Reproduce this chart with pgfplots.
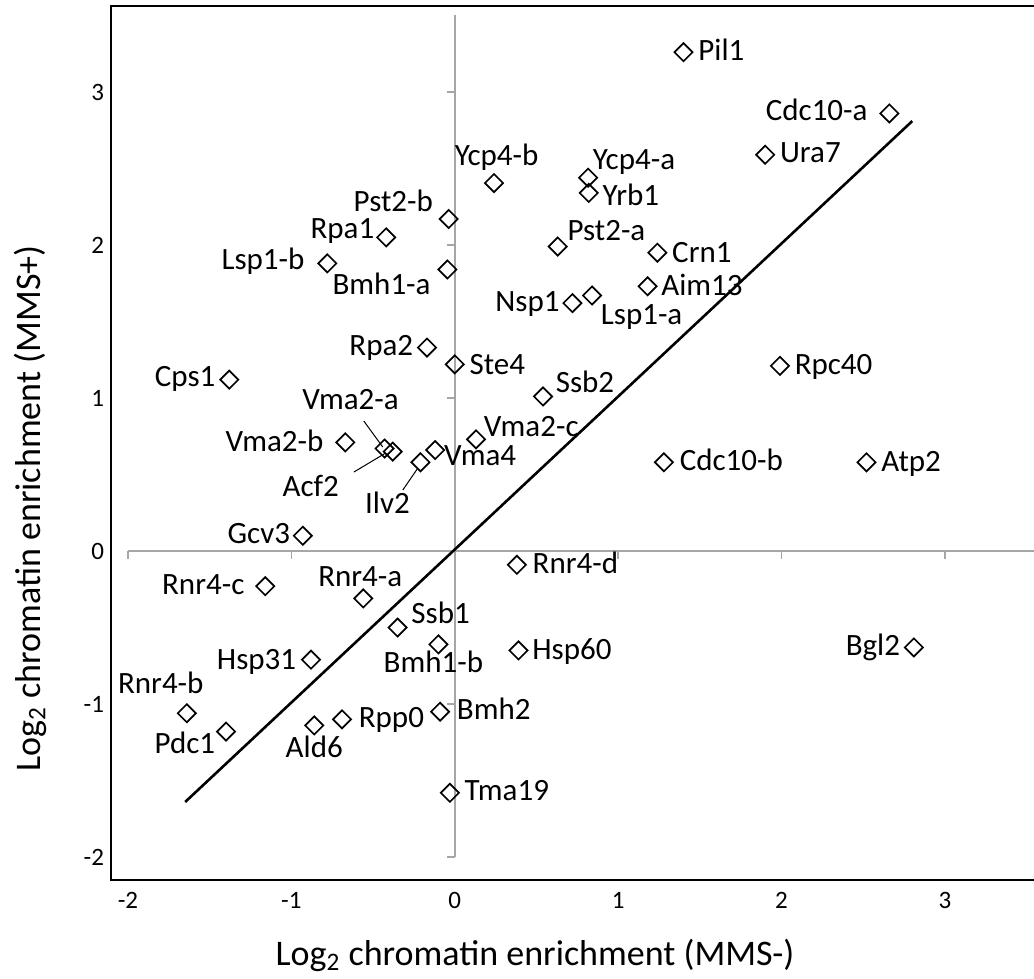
\documentclass[border=0pt]{standalone}
\usepackage{fontspec}
\setmainfont{Carlito}
\usepackage{pgfplots}
\pgfplotsset{compat=1.18}

\begin{document}
\begin{tikzpicture}
\begin{axis}[
    name=ax,
    scale only axis,
    width=461.5pt, height=437pt,
    xmin=-2.104, xmax=3.545,
    ymin=-2.150, ymax=3.562,
    axis line style={draw=none},
    major tick length=0pt,
    xtick={-2,-1,0,1,2,3}, xticklabels={-2,-1,0,1,2,3},
    ytick={-2,-1,0,1,2,3}, yticklabels={-2,-1,0,1,2,3},
    tick label style={font=\fontsize{12.5}{14}\selectfont},
    xticklabel style={yshift=-2.6pt},
    clip=false,
]
% frame (no right side, cut off in the reference)
\draw[line width=1pt] (rel axis cs:1,1) -- (rel axis cs:0,1)
    -- (rel axis cs:0,0) -- (rel axis cs:1,0);
% grey axes through zero
\draw[gray!70, line width=0.75pt] (axis cs:-2,0) -- (axis cs:3.545,0);
\draw[gray!70, line width=0.75pt] (axis cs:0,-2) -- (axis cs:0,3.5);
\pgfplotsinvokeforeach{-2,-1,1,2,3}{
  \draw[gray!70, line width=0.75pt] (axis cs:#1,0) -- ++(0pt,-4pt);
  \draw[gray!70, line width=0.75pt] (axis cs:0,#1) -- ++(-4pt,0pt);
}
% leader lines
\draw[line width=0.5pt] (axis cs:-0.557,0.850) -- (axis cs:-0.441,0.680);
\draw[line width=0.5pt] (axis cs:-0.618,0.516) -- (axis cs:-0.422,0.641);
\draw[line width=0.5pt] (axis cs:-0.318,0.399) -- (axis cs:-0.226,0.542);

% trend line
\addplot[black, line width=1.3pt] coordinates {(-1.65,-1.64) (2.80,2.81)};

% genes; dx, dy = label offset in px of the reference
\addplot[only marks, mark=square, mark size=3.2pt,
    mark options={rotate=45, line width=0.85pt, draw=black},
    point meta=explicit symbolic,
    visualization depends on={value \thisrow{anc} \as \myanc},
    visualization depends on={\thisrow{dx} \as \mydx},
    visualization depends on={\thisrow{dy} \as \mydy},
    nodes near coords,
    every node near coord/.append style={anchor=\myanc, inner sep=0pt,
        xshift=\mydx*0.5pt, yshift=\mydy*0.5pt,
        font=\fontsize{15.5}{18}\selectfont},
] table[col sep=comma, x=x, y=y, meta=name] {
x,y,name,anc,dx,dy
1.40,3.26,Pil1,base west,14,-8
2.66,2.86,Cdc10-a,base east,-21,-7
1.90,2.59,Ura7,base west,14,-8
0.24,2.405,Ycp4-b,base west,-40,18
0.816,2.44,Ycp4-a,base west,4,8
0.82,2.34,Yrb1,base west,13,-13
-0.037,2.17,Pst2-b,base east,-15,7
-0.42,2.05,Rpa1,base east,-11,-1
0.63,1.99,Pst2-a,base west,9,6
1.24,1.95,Crn1,base west,14,-10
-0.78,1.88,Lsp1-b,base east,-22,-6
-0.045,1.84,Bmh1-a,base east,-16,-25
1.18,1.73,Aim13,base west,13,-9
0.84,1.67,Lsp1-a,base west,8,-29
0.72,1.62,Nsp1,base east,-12,-8
-0.17,1.33,Rpa2,base east,-13,-8
0.00,1.22,Ste4,base west,14,-10
1.99,1.21,Rpc40,base west,14,-9
-1.38,1.12,Cps1,base east,-13,-7
0.54,1.01,Ssb2,base west,12,4
0.13,0.73,Vma2-c,base west,7,3
-0.67,0.71,Vma2-b,base east,-21,-9
-0.43,0.67,Vma2-a,base,-34,39
-0.38,0.65,Acf2,base,-82,-45
-0.12,0.66,Vma4,base west,8,-15
-0.21,0.58,Ilv2,base,-33,-51
1.28,0.58,Cdc10-b,base west,15,-8
2.52,0.58,Atp2,base west,14,-9
-0.93,0.10,Gcv3,base east,-12,-8
0.38,-0.09,Rnr4-d,base west,15,-9
-1.16,-0.23,Rnr4-c,base east,-20,-8
-0.56,-0.31,Rnr4-a,base,-3,12
-0.35,-0.50,Ssb1,base west,13,4
-0.10,-0.61,Bmh1-b,base,-5,-28
2.81,-0.63,Bgl2,base east,-13,-8
0.39,-0.65,Hsp60,base west,13,-9
-0.88,-0.71,Hsp31,base east,-14,-10
-0.09,-1.05,Bmh2,base west,16,-8
-1.64,-1.06,Rnr4-b,base,-26,20
-0.69,-1.10,Rpp0,base west,16,-8
-0.86,-1.14,Ald6,base,0,-32
-1.40,-1.18,Pdc1,base east,-10,-22
-0.03,-1.58,Tma19,base west,14,-8
};
\end{axis}
\node[font=\fontsize{18}{21}\selectfont]
  at ([shift={(212pt,-37.5pt)}]ax.south west)
  {Log\textsubscript{2} chromatin enrichment (MMS-)};
\node[font=\fontsize{18}{21}\selectfont, rotate=90]
  at ([shift={(-40.5pt,185.75pt)}]ax.south west)
  {Log\textsubscript{2} chromatin enrichment (MMS+)};
\pgfresetboundingbox
\path ([shift={(-55.5pt,-49pt)}]ax.south west) rectangle ([shift={(0pt,3pt)}]ax.north east);
\end{tikzpicture}
\end{document}
